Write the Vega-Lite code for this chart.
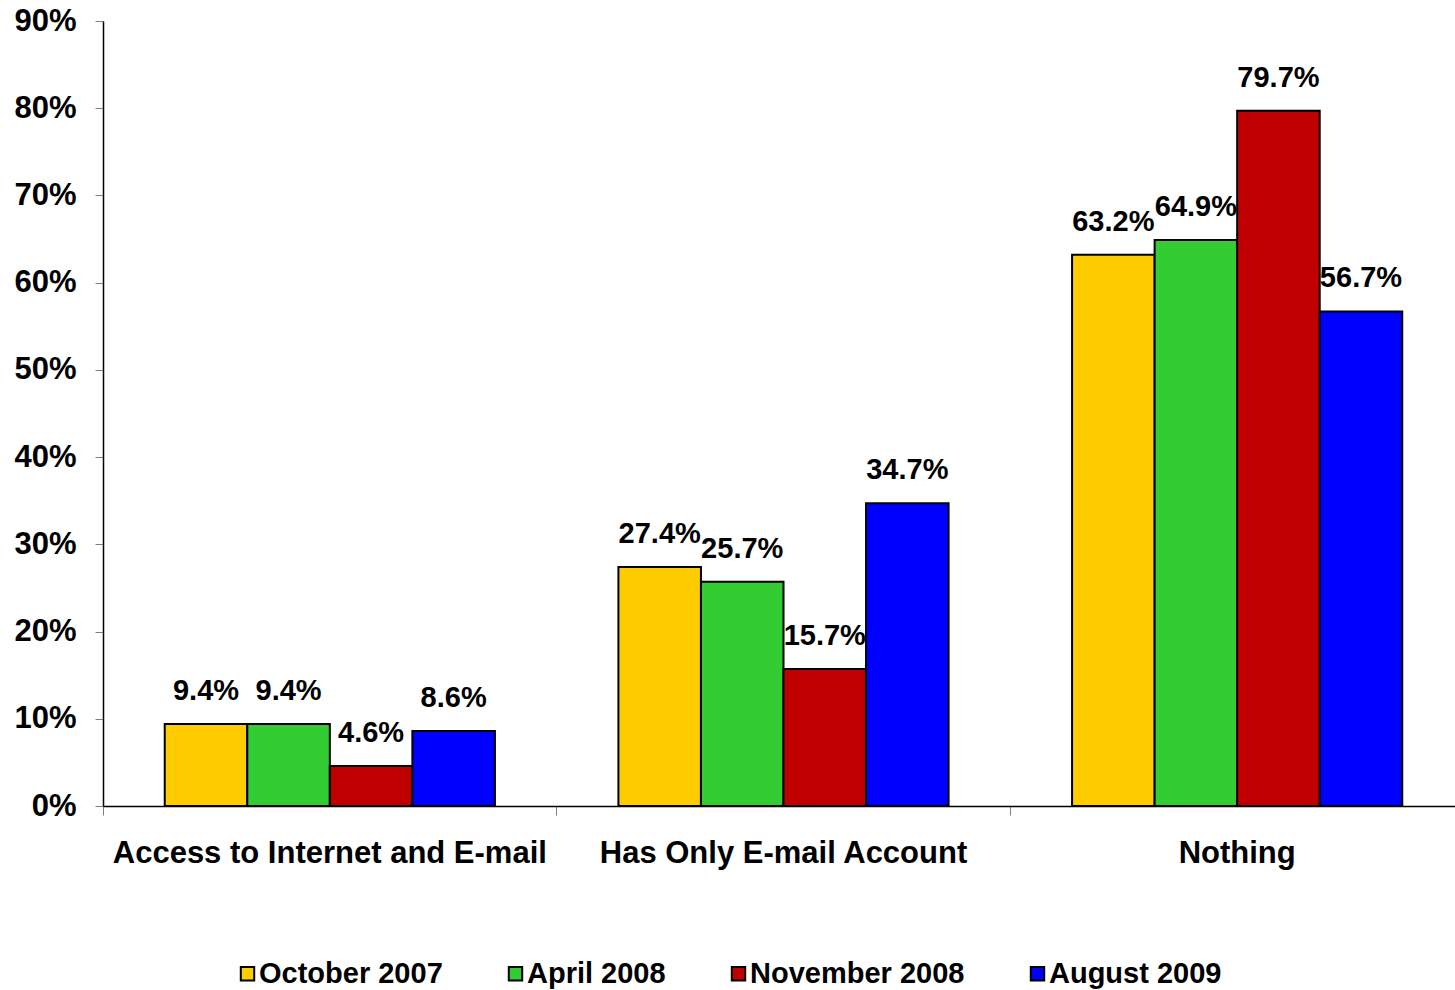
{
  "$schema": "https://vega.github.io/schema/vega-lite/v6.json",
  "width": 1352,
  "height": 785,
  "autosize": {"type": "none"},
  "padding": {"left": 103, "top": 21, "right": 0, "bottom": 184},
  "background": "white",
  "config": {"view": {"stroke": null}, "font": "Liberation Sans"},
  "data": {
    "values": [
      {"category": "Access to Internet and E-mail", "period": "October 2007", "value": 0.094},
      {"category": "Access to Internet and E-mail", "period": "April 2008", "value": 0.094},
      {"category": "Access to Internet and E-mail", "period": "November 2008", "value": 0.046},
      {"category": "Access to Internet and E-mail", "period": "August 2009", "value": 0.086},
      {"category": "Has Only E-mail Account", "period": "October 2007", "value": 0.274},
      {"category": "Has Only E-mail Account", "period": "April 2008", "value": 0.257},
      {"category": "Has Only E-mail Account", "period": "November 2008", "value": 0.157},
      {"category": "Has Only E-mail Account", "period": "August 2009", "value": 0.347},
      {"category": "Nothing", "period": "October 2007", "value": 0.632},
      {"category": "Nothing", "period": "April 2008", "value": 0.649},
      {"category": "Nothing", "period": "November 2008", "value": 0.797},
      {"category": "Nothing", "period": "August 2009", "value": 0.567}
    ]
  },
  "encoding": {
    "x": {
      "field": "category",
      "type": "nominal",
      "sort": ["Access to Internet and E-mail", "Has Only E-mail Account", "Nothing"],
      "scale": {"range": [0, 1361], "paddingInner": 0, "paddingOuter": 0},
      "axis": {
        "title": null,
        "labelAngle": 0,
        "bandPosition": 0,
        "tickSize": 9,
        "tickColor": "#808080",
        "tickWidth": 1,
        "domainColor": "black",
        "domainWidth": 1.5,
        "labelFontSize": 31,
        "labelFontWeight": "bold",
        "labelColor": "black",
        "labelPadding": 23,
        "labelLimit": 0
      }
    },
    "xOffset": {
      "field": "period",
      "type": "nominal",
      "sort": ["October 2007", "April 2008", "November 2008", "August 2009"],
      "scale": {"paddingInner": 0, "paddingOuter": 0.748}
    },
    "y": {
      "field": "value",
      "type": "quantitative",
      "scale": {"domain": [0, 0.9], "nice": false},
      "axis": {
        "title": null,
        "values": [0, 0.1, 0.2, 0.3, 0.4, 0.5, 0.6, 0.7, 0.8, 0.9],
        "format": ".0%",
        "grid": false,
        "tickSize": 8,
        "tickColor": "#808080",
        "domainColor": "black",
        "domainWidth": 1.5,
        "labelFontSize": 31,
        "labelFontWeight": "bold",
        "labelColor": "black",
        "labelPadding": 19
      }
    }
  },
  "layer": [
    {
      "mark": {"type": "bar", "stroke": "black", "strokeWidth": 2},
      "encoding": {
        "color": {
          "field": "period",
          "type": "nominal",
          "sort": ["October 2007", "April 2008", "November 2008", "August 2009"],
          "scale": {
            "domain": ["October 2007", "April 2008", "November 2008", "August 2009"],
            "range": ["#FFCC00", "#33CC33", "#C00000", "#0000FF"]
          },
          "legend": {
            "title": null,
            "orient": "none",
            "legendX": 130,
            "legendY": 938,
            "direction": "horizontal",
            "symbolType": "square",
            "symbolSize": 180,
            "symbolStrokeColor": "black",
            "symbolStrokeWidth": 2,
            "symbolOpacity": 1,
            "labelFontSize": 29,
            "labelFontWeight": "bold",
            "labelColor": "black",
            "labelOffset": -3,
            "columnPadding": 58,
            "labelLimit": 0
          }
        }
      }
    },
    {
      "mark": {"type": "text", "baseline": "alphabetic", "dy": -24, "fontSize": 29, "fontWeight": "bold", "color": "black"},
      "encoding": {
        "text": {"field": "value", "type": "quantitative", "format": ".1%"}
      }
    }
  ]
}
